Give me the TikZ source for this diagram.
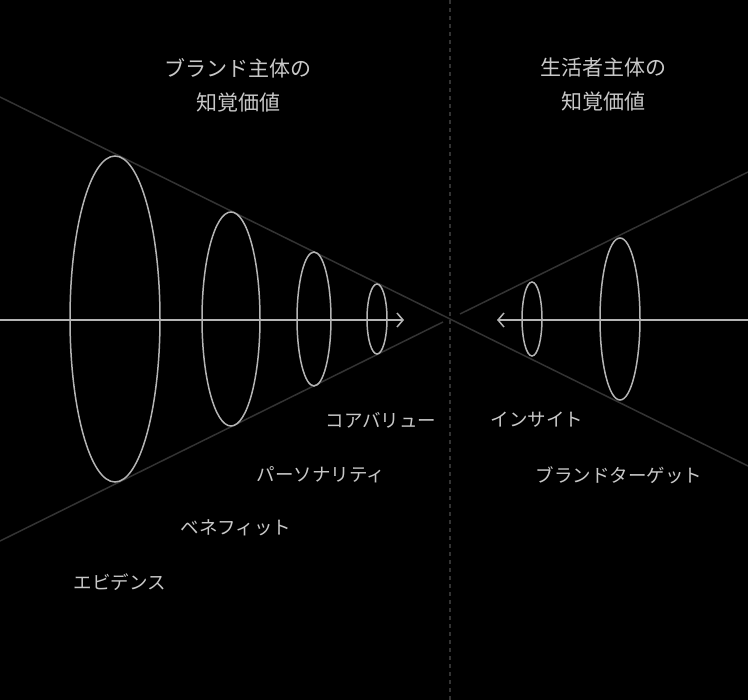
\documentclass[tikz,border=0pt]{standalone}
\usepackage{fontspec}
\setmainfont{Noto Sans CJK JP}
\usetikzlibrary{shapes.geometric,arrows.meta}
\definecolor{fg}{HTML}{B4B4B4}
\definecolor{txt}{HTML}{C8C8C8}
\definecolor{cone}{HTML}{333333}
\definecolor{dashc}{HTML}{333333}
\tikzset{
  ring/.style={ellipse, draw=fg, line width=1.5pt, inner sep=0pt, outer sep=0pt},
  axisline/.style={draw=fg, line width=1.5pt, -{Straight Barb[length=6pt,width=14pt,line width=1.5pt]}},
  coneline/.style={draw=cone, line width=1.5pt},
  title/.style={text=txt, font=\fontsize{21}{34}\selectfont, align=center},
  lbl/.style={text=txt, font=\fontsize{18.5}{20}\selectfont, inner sep=0pt},
}
\begin{document}
\begin{tikzpicture}[x=1pt,y=-1pt]
\useasboundingbox[fill=black] (0,0) rectangle (748,700);
% centre dashed line
\coordinate (dt) at (450,0);
\coordinate (db) at (450,700);
\draw[draw=dashc, line width=1.3pt, dash pattern=on 4pt off 4pt] (dt) -- (db);
% cone lines
\coordinate (c1a) at (0,97);
\coordinate (c1b) at (748,466);
\draw[coneline] (c1a) -- (c1b);
\coordinate (c2a) at (0,541);
\coordinate (c2b) at (443,322);
\draw[coneline] (c2a) -- (c2b);
\coordinate (c3a) at (460,314);
\coordinate (c3b) at (748,172);
\draw[coneline] (c3a) -- (c3b);
% ellipses
\node[ring, minimum width=90pt, minimum height=326pt] (e1) at (115,319) {};
\node[ring, minimum width=58pt, minimum height=214pt] (e2) at (231,319) {};
\node[ring, minimum width=34pt, minimum height=134pt] (e3) at (314,319) {};
\node[ring, minimum width=20pt, minimum height=70pt] (e4) at (377,319) {};
\node[ring, minimum width=20pt, minimum height=74pt] (e5) at (532,319) {};
\node[ring, minimum width=40pt, minimum height=162pt] (e6) at (620,319) {};
% axes
\coordinate (al) at (0,320);
\coordinate (ar) at (404,320);
\draw[axisline] (al) -- (ar);
\coordinate (bl) at (748,320);
\coordinate (br) at (497,320);
\draw[axisline] (bl) -- (br);
% titles
\node[title] (t1) at (238,85) {ブランド主体の\\知覚価値};
\node[title] (t2) at (603,85) {生活者主体の\\知覚価値};
% labels
\node[lbl] (l1) at (381,420) {コアバリュー};
\node[lbl] (l2) at (321,475) {パーソナリティ};
\node[lbl] (l3) at (236,528) {ベネフィット};
\node[lbl] (l4) at (120,582) {エビデンス};
\node[lbl] (l5) at (537,420) {インサイト};
\node[lbl] (l6) at (619,475) {ブランドターゲット};
\end{tikzpicture}
\end{document}
